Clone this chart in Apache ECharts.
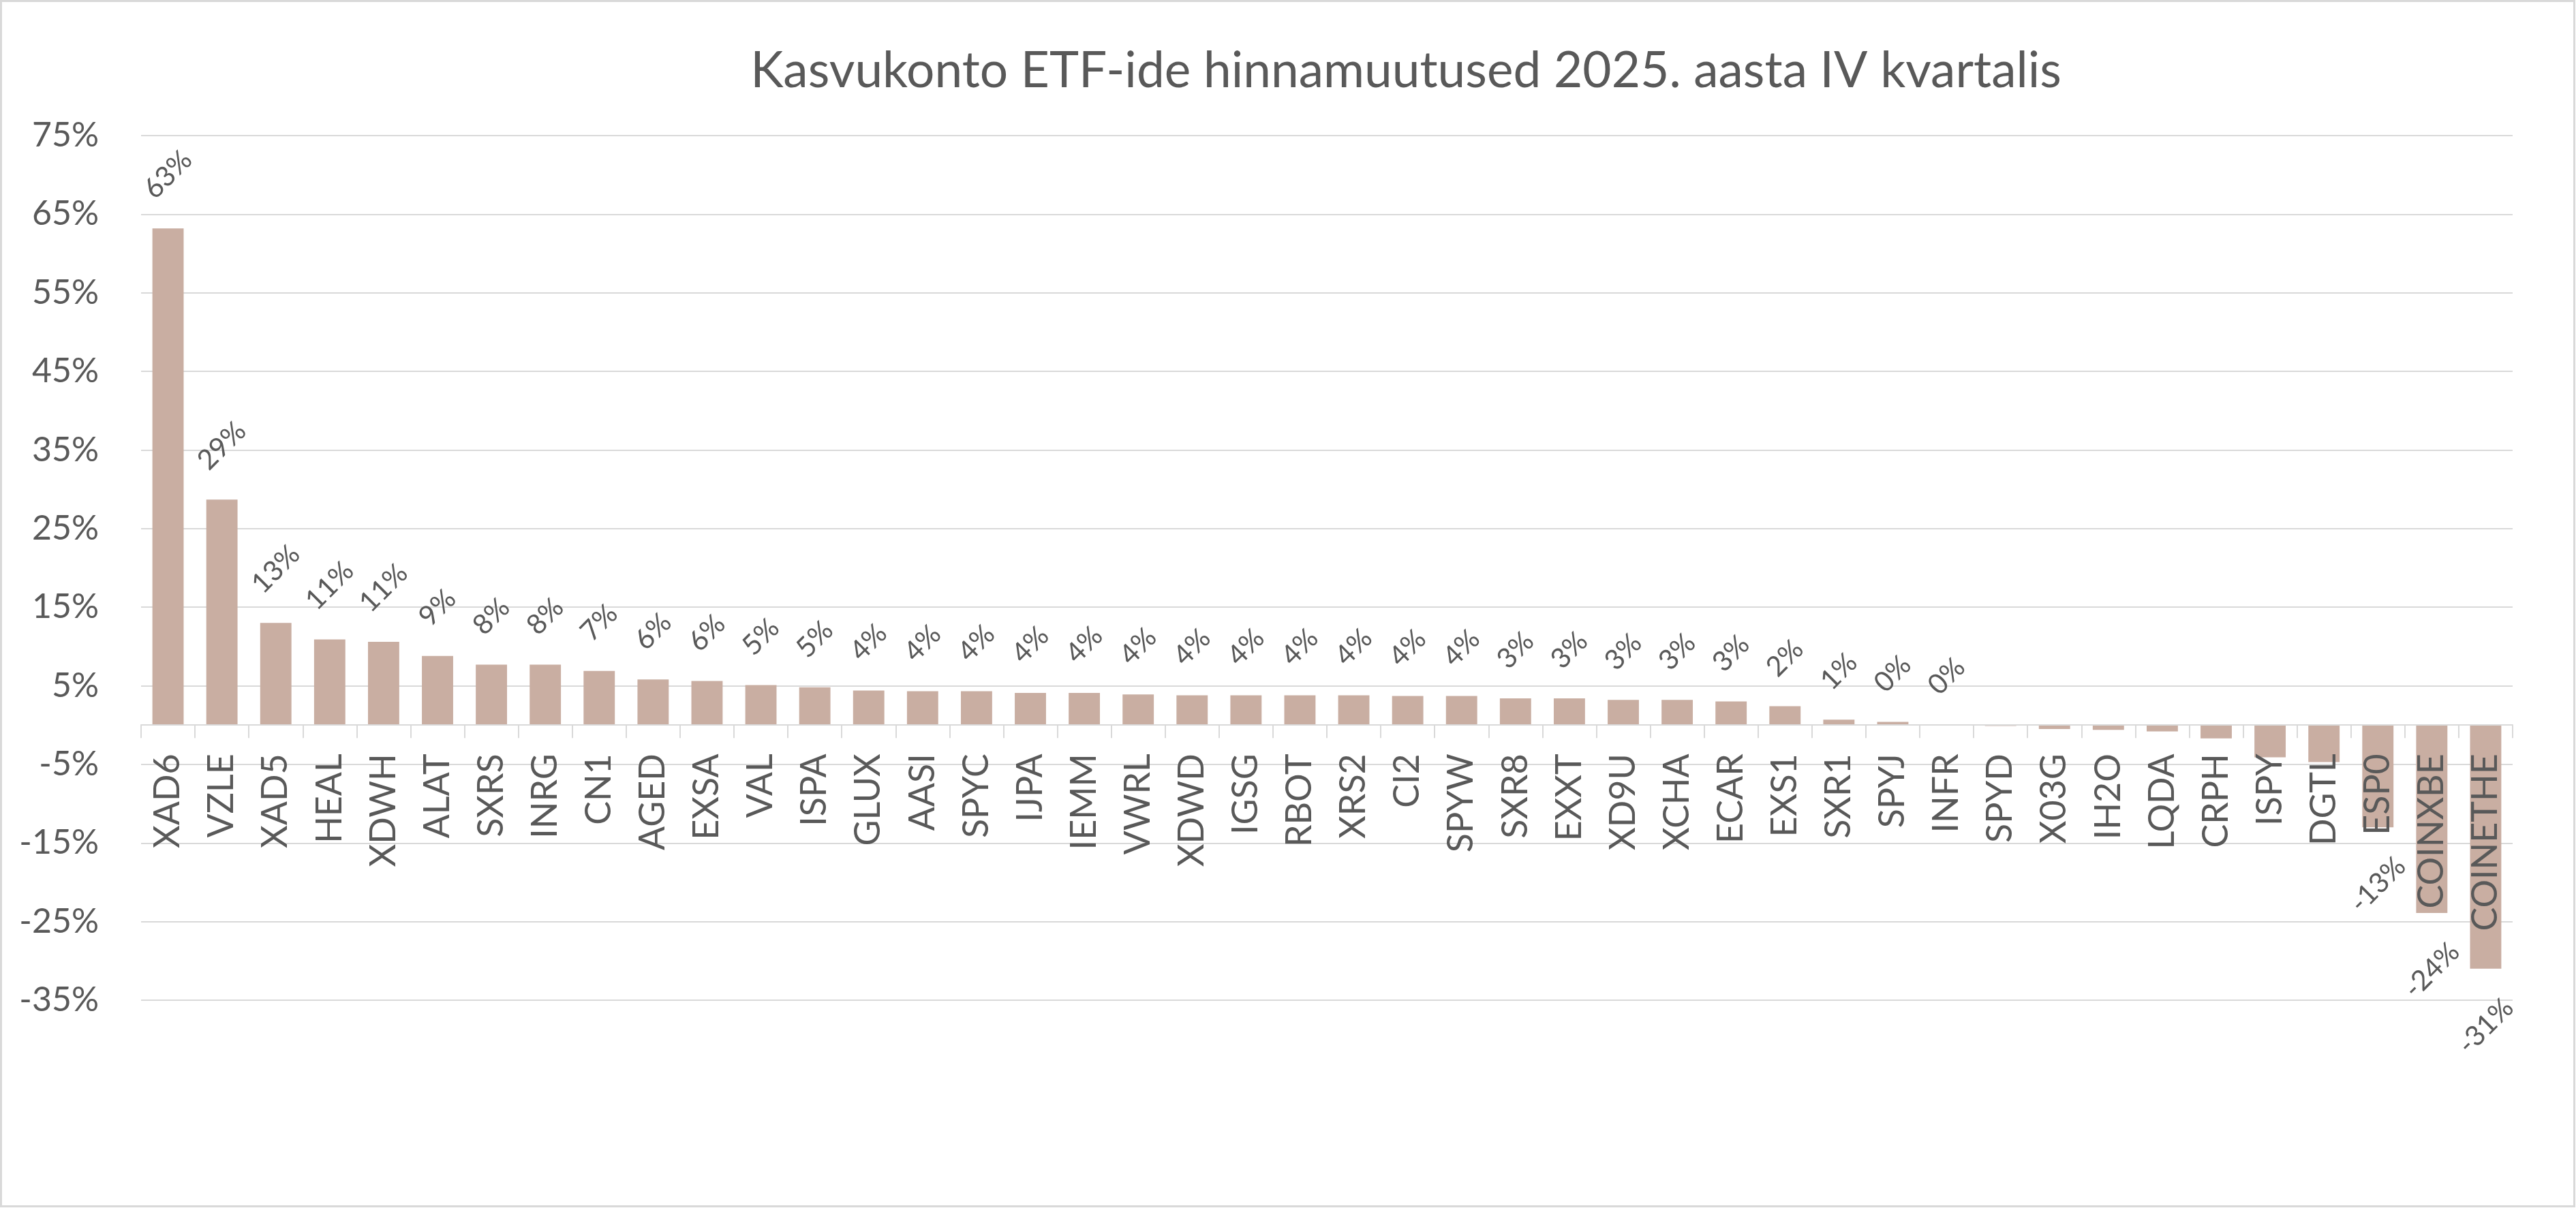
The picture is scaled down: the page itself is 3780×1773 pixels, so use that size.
<!DOCTYPE html>
<html><head><meta charset="utf-8">
<script src="https://cdn.jsdelivr.net/npm/echarts@6/dist/echarts.min.js"></script>
<style>html,body{margin:0;padding:0;background:#fff}#c{width:3780px;height:1773px}</style>
</head><body><div id="c"></div>
<script>
const chartTitle = 'Kasvukonto ETF-ide hinnamuutused 2025. aasta IV kvartalis';
const categories = ['XAD6','VZLE','XAD5','HEAL','XDWH','ALAT','SXRS','INRG','CN1','AGED','EXSA','VAL','ISPA','GLUX','AASI','SPYC','IJPA','IEMM','VWRL','XDWD','IGSG','RBOT','XRS2','CI2','SPYW','SXR8','EXXT','XD9U','XCHA','ECAR','EXS1','SXR1','SPYJ','INFR','SPYD','X03G','IH2O','LQDA','CRPH','ISPY','DGTL','ESP0','COINXBE','COINETHE'];
const values = [63.2,28.7,13.0,10.9,10.6,8.8,7.7,7.7,6.9,5.8,5.6,5.1,4.8,4.4,4.3,4.3,4.1,4.1,3.9,3.8,3.8,3.8,3.8,3.7,3.7,3.4,3.4,3.2,3.2,3.0,2.4,0.7,0.4,0.1,-0.1,-0.5,-0.6,-0.8,-1.7,-4.1,-4.7,-13.0,-23.9,-31.0];
const unlabeled = ['SPYD','X03G','IH2O','LQDA','CRPH','ISPY','DGTL'];
const yMin = -35, yMax = 75, yStep = 10;

const FONT = 'Lato, "Open Sans", sans-serif';
const TXT = '#595959';
const GRID = '#d9d9d9';
const LBL_SIZE = 41;
const W = 3780, H = 1773;
const G = { left: 207, right: 93, top: 199, bottom: 305 };
const plotH = H - G.top - G.bottom;
// move the category axis (line, ticks and labels) up to the zero level of the value axis
const xAxisOffset = -plotH * (0 - yMin) / (yMax - yMin);

const fmt = v => Math.round(v) + '%';
const mctx = document.createElement('canvas').getContext('2d');
mctx.font = LBL_SIZE + 'px Lato';
function labelDistance(text) {
  const w = mctx.measureText(text).width;
  return 40 + (w + 0.72 * LBL_SIZE) * 0.3536;
}

const seriesData = values.map((v, i) => {
  const t = fmt(v);
  return {
    value: v,
    label: {
      show: unlabeled.indexOf(categories[i]) < 0,
      position: v >= 0 ? 'top' : 'bottom',
      distance: labelDistance(t)
    }
  };
});

const chart = echarts.init(document.getElementById('c'));
chart.setOption({
  animation: false,
  backgroundColor: '#fff',
  grid: { left: G.left, right: G.right, top: G.top, bottom: G.bottom, containLabel: false },
  graphic: [
    { type: 'rect', shape: { x: 1.5, y: 1.5, width: W - 4, height: H - 4 },
      style: { fill: 'none', stroke: GRID, lineWidth: 3 }, z: -1 },
    { type: 'text', x: 2063, y: 104,
      style: { text: chartTitle, font: '73px Lato', fill: TXT, textAlign: 'center', textVerticalAlign: 'middle' } }
  ],
  xAxis: {
    type: 'category',
    data: categories,
    offset: xAxisOffset,
    z: 10,
    axisLine: { onZero: false, lineStyle: { color: GRID, width: 2 } },
    axisTick: { show: true, length: 19, lineStyle: { color: GRID, width: 2 } },
    axisLabel: { interval: 0, rotate: 90, margin: 42, fontSize: 52, fontFamily: FONT, color: TXT }
  },
  yAxis: {
    type: 'value',
    min: yMin, max: yMax, interval: yStep,
    axisLine: { show: false },
    axisTick: { show: false },
    splitLine: { lineStyle: { color: GRID, width: 2 } },
    axisLabel: { formatter: '{value}%', margin: 62, fontSize: 50, fontFamily: FONT, color: TXT }
  },
  series: [{
    type: 'bar',
    data: seriesData,
    barWidth: '58%',
    itemStyle: { color: '#C9AEA2' },
    label: {
      show: true, rotate: 45, align: 'center', verticalAlign: 'middle',
      fontSize: LBL_SIZE, fontFamily: FONT, color: TXT,
      formatter: p => fmt(p.value)
    }
  }]
});
</script>
</body></html>
